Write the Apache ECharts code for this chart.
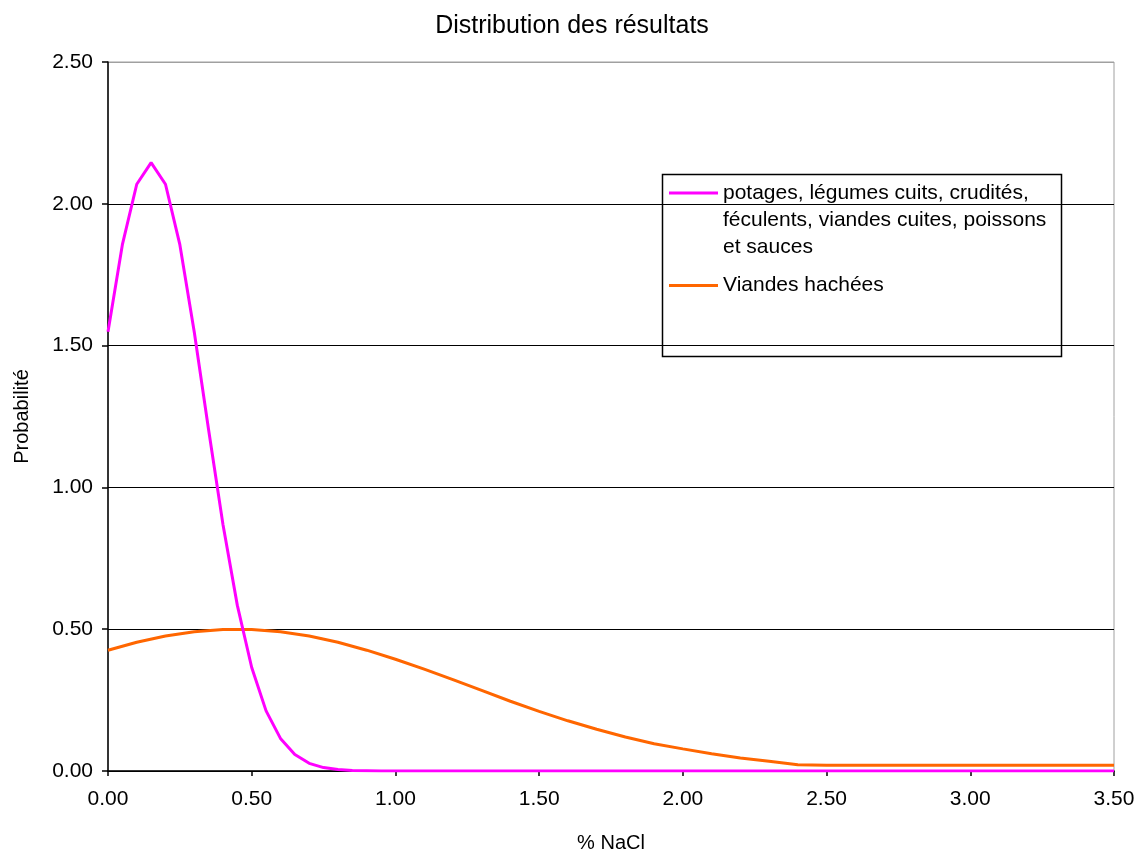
<!DOCTYPE html>
<html><head><meta charset="utf-8">
<script src="https://cdn.jsdelivr.net/npm/echarts@6/dist/echarts.min.js"></script>
<style>html,body{margin:0;padding:0;background:#fff}#c{width:1144px;height:856px}</style>
</head><body><div id="c"></div>
<script>
const titleText = 'Distribution des résultats';
const xName = '% NaCl';
const yName = 'Probabilité';
const seriesNames = ['potages, légumes cuits, crudités,\nféculents, viandes cuites, poissons\net sauces', 'Viandes hachées'];
const potagesX = [0,0.05,0.1,0.15,0.2,0.25,0.3,0.35,0.4,0.45,0.5,0.55,0.6,0.65,0.7,0.75,0.8,0.85,0.9,0.95,1.0,1.5,2.0,2.5,3.0,3.5];
const potagesY = [1.549,1.856,2.069,2.145,2.069,1.856,1.549,1.203,0.869,0.584,0.365,0.212,0.115,0.058,0.027,0.012,0.005,0.002,0.001,0,0,0,0,0,0,0];
const viandesX = [0,0.1,0.2,0.3,0.4,0.5,0.6,0.7,0.8,0.9,1.0,1.1,1.2,1.3,1.4,1.5,1.6,1.7,1.8,1.9,2.0,2.1,2.2,2.3,2.4,2.5,3.0,3.5];
const viandesY = [0.426,0.454,0.476,0.491,0.499,0.499,0.491,0.476,0.454,0.426,0.394,0.359,0.322,0.284,0.246,0.210,0.177,0.147,0.120,0.096,0.078,0.061,0.046,0.034,0.022,0.02,0.02,0.02];

const pairs = (xs, ys) => xs.map((x, i) => [x, ys[i]]);
const font = 'Arial, "Liberation Sans", sans-serif';
const legendText = { fontFamily: font, fontSize: 21, color: '#000', lineHeight: 27 };
const chart = echarts.init(document.getElementById('c'));
chart.setOption({
  animation: false,
  backgroundColor: '#fff',
  title: { text: titleText, left: 'center', top: 9,
    textStyle: { fontFamily: font, fontSize: 25, fontWeight: 'normal', color: '#000' } },
  grid: { left: 108, right: 30, top: 62, bottom: 85, outerBoundsMode: 'none', containLabel: false,
    show: true, borderColor: '#a0a0a0', borderWidth: 1 },
  legend: [
    { left: 669, top: 179.5, orient: 'vertical', padding: 0,
      itemWidth: 49, itemHeight: 81,
      icon: 'path://M0,12L49,12L49,15L0,15Z M0,0L0.01,0L0.01,0.01Z M0,81L0.01,81L0.01,80.99Z',
      textStyle: legendText, data: [seriesNames[0]] },
    { left: 669, top: 272, orient: 'vertical', padding: 0,
      itemWidth: 49, itemHeight: 3, icon: 'rect',
      textStyle: legendText, data: [seriesNames[1]] }
  ],
  graphic: [{ type: 'rect', shape: { x: 662.5, y: 174.5, width: 399, height: 182 },
    style: { fill: 'rgba(255,255,255,0)', stroke: '#000', lineWidth: 1.5 }, z: 100 }],
  xAxis: {
    type: 'value', min: 0, max: 3.5, interval: 0.5,
    name: xName, nameLocation: 'middle', nameGap: 62,
    nameTextStyle: { fontFamily: font, fontSize: 20, color: '#000' },
    axisLine: { show: true, onZero: false, lineStyle: { color: '#000', width: 1.5 } },
    axisTick: { show: true, inside: false, length: 5, lineStyle: { color: '#000', width: 1.5 } },
    axisLabel: { fontFamily: font, fontSize: 21, color: '#000', margin: 18, formatter: v => v.toFixed(2) },
    splitLine: { show: false }
  },
  yAxis: {
    type: 'value', min: 0, max: 2.5, interval: 0.5,
    name: yName, nameLocation: 'middle', nameGap: 76, nameRotate: 90,
    nameTextStyle: { fontFamily: font, fontSize: 20, color: '#000' },
    axisLine: { show: true, onZero: false, lineStyle: { color: '#000', width: 1.5 } },
    axisTick: { show: true, inside: false, length: 6, lineStyle: { color: '#000', width: 1.5 } },
    axisLabel: { fontFamily: font, fontSize: 21, color: '#000', margin: 15, formatter: v => v.toFixed(2) },
    splitLine: { show: true, lineStyle: { color: ['#000','#000','#000','#000','#000','#a0a0a0'], width: 1.2 } }
  },
  series: [
    { name: seriesNames[0], type: 'line', data: pairs(potagesX, potagesY), showSymbol: false,
      smooth: false, lineStyle: { color: '#ff00ff', width: 3 }, itemStyle: { color: '#ff00ff' }, z: 3 },
    { name: seriesNames[1], type: 'line', data: pairs(viandesX, viandesY), showSymbol: false,
      smooth: false, lineStyle: { color: '#ff6600', width: 3 }, itemStyle: { color: '#ff6600' }, z: 2 }
  ]
});
</script></body></html>
